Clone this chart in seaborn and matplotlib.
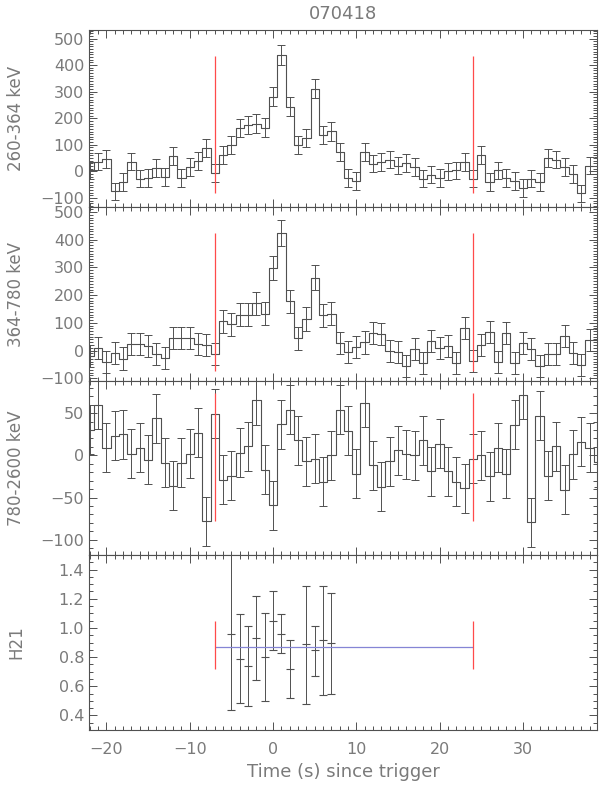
import numpy as np
import matplotlib
matplotlib.use("Agg")
import matplotlib.pyplot as plt
from matplotlib.ticker import MultipleLocator, FormatStrFormatter
import seaborn as sns

sns.set_theme(style="ticks")
plt.rcParams['font.family'] = ['DejaVu Sans']

# time bins (s since trigger), bin centres
t = np.arange(-22, 40)

# 260-364 keV
rate1 = [4, 37, 47, -75, -40, 37, -27, -25, 12, -21, 57, -25, 16, 39, 87, -6,
         62, 100, 163, 175, 180, 165,
         281, 439, 243, 100, 124, 311, 137, 151, 72,
         -25, -36, 72, 29, 35, 44, 22, 31, 16, -27, -12, -25, 0, 4, 35, -27, 62,
         -40, 4, -25, -36, -62, -27, -40, 50, 44, 16, -9, -83, 22, 22]
err1 = ([33] * 16 + [34, 35, 35, 35, 35, 35]
        + [36, 38, 36, 34, 34, 36, 35, 35, 34] + [33] * 31)

# 364-780 keV
rate2 = [-20, 10, -40, -8, -29, 24, 24, 15, -14, -27, 45, 45, 45, 24, 20, -12,
         105, 94, 130, 130, 171, 133,
         298, 424, 177, 44, 114, 263, 127, 133, 27,
         -5, 14, 29, 62, 59, -2, -6, -57, 6, -44, 33, 9, 17, -45, 82, -38, 21,
         68, -42, 62, -45, 27, 6, -57, -14, -14, 52, -8, -53, 38, 38]
err2 = ([40] * 16 + [41, 41, 42, 42, 42, 42]
        + [44, 46, 43, 41, 42, 44, 42, 42, 40] + [40] * 31)

# 780-2600 keV
rate3 = [30, 60, 9, 23, 25, 2, 9, -5, 44, -9, -36, -9, 2, 27, -78, 49,
         -29, -24, 3, 11, 65, -17,
         -59, 37, 54, 18, -7, -4, -31, 0, 54,
         29, -22, 62, -12, -37, -7, 6, 1, 0, 18, -19, 14, -19, -31, -39, -4,
         0, -25, 9, -22, 36, 72, -79, 47, -24, 11, -41, 1, 16, 9, -8]
err3 = [29] * 62

# interval used for the hardness ratio
t_start, t_stop = -7, 24
line_lo = [-83, -75, -78]
line_hi = [435, 424, 74]

# H21 hardness ratio
h_t = [-5, -4, -3, -2, -1, 0, 1, 2, 4, 5, 6, 7]
h_val = [0.96, 0.79, 0.74, 0.93, 0.80, 1.05, 0.96, 0.72, 0.89, 0.85, 0.92, 0.895]
h_lo = [0.44, 0.485, 0.467, 0.64, 0.50, 0.85, 0.826, 0.52, 0.48, 0.67, 0.54, 0.55]
h_hi = [1.60, 1.094, 1.01, 1.22, 1.10, 1.25, 1.094, 0.92, 1.29, 1.01, 1.29, 1.24]
h_mean, h_mean_lo, h_mean_hi = 0.87, 0.72, 1.05

labels = ['260-364 keV', '364-780 keV', '780-2600 keV', 'H21']
ylims = [(-134, 532), (-110, 518), (-118, 88), (0.3, 1.5)]

fg = '#505050'
txt = '#7a7a7a'
red = '#ff4a4a'

fig = plt.figure(figsize=(6.0, 7.88), dpi=100)
W, H = 600.0, 788.0
left, right = 89 / W, 597 / W
edges = [30, 207, 381, 555, 730]
axes = []
for i in range(4):
    b = 1 - edges[i + 1] / H
    h = (edges[i + 1] - edges[i]) / H
    axes.append(fig.add_axes([left, b, right - left, h]))

rates = [rate1, rate2, rate3]
errs = [err1, err2, err3]
for i in range(3):
    ax = axes[i]
    sns.lineplot(x=t, y=rates[i], drawstyle='steps-mid', estimator=None,
                 color=fg, lw=0.8, ax=ax)
    ax.errorbar(t, rates[i], yerr=errs[i], fmt='none', ecolor=fg,
                elinewidth=0.7, capsize=2.8, capthick=0.7)
    ax.vlines([t_start, t_stop], line_lo[i], line_hi[i], color=red, lw=0.9,
              zorder=5)

ax = axes[3]
h_err = [np.array(h_val) - np.array(h_lo), np.array(h_hi) - np.array(h_val)]
ax.errorbar(h_t, h_val, yerr=h_err, fmt='_', color=fg, ms=6, mew=0.8,
            elinewidth=0.7, capsize=2.8, capthick=0.7)
ax.hlines(h_mean, t_start, t_stop, color='#8585d5', lw=0.9)
ax.vlines([t_start, t_stop], h_mean_lo, h_mean_hi, color=red, lw=0.9, zorder=5)

for i, ax in enumerate(axes):
    ax.set_xlim(-22.1, 38.9)
    ax.set_ylim(*ylims[i])
    ax.xaxis.set_major_locator(MultipleLocator(10))
    ax.xaxis.set_minor_locator(MultipleLocator(1))
    if i < 2:
        ax.yaxis.set_major_locator(MultipleLocator(100))
        ax.yaxis.set_minor_locator(MultipleLocator(10))
    elif i == 2:
        ax.yaxis.set_major_locator(MultipleLocator(50))
        ax.yaxis.set_minor_locator(MultipleLocator(10))
    else:
        ax.yaxis.set_major_locator(MultipleLocator(0.2))
        ax.yaxis.set_minor_locator(MultipleLocator(0.05))
        ax.yaxis.set_major_formatter(FormatStrFormatter('%.1f'))
    ax.tick_params(which='both', direction='in', top=True, right=True,
                   color=fg, labelcolor=txt, labelsize=11.5, width=0.7)
    ax.tick_params(which='major', length=6)
    ax.tick_params(which='minor', length=3)
    ax.tick_params(axis='x', pad=9)
    for s in ax.spines.values():
        s.set_color(fg)
        s.set_linewidth(0.8)
    ax.set_ylabel(labels[i], color=txt, fontsize=12)
    ax.yaxis.set_label_coords(-0.125, 0.5)
    if i < 3:
        ax.tick_params(labelbottom=False)
    ax.set_xlabel('')

axes[3].set_xlabel('Time (s) since trigger', color=txt, fontsize=13, labelpad=4)
axes[0].set_title('070418', color=txt, fontsize=13, pad=8)

fig.savefig('out.png', dpi=100)
